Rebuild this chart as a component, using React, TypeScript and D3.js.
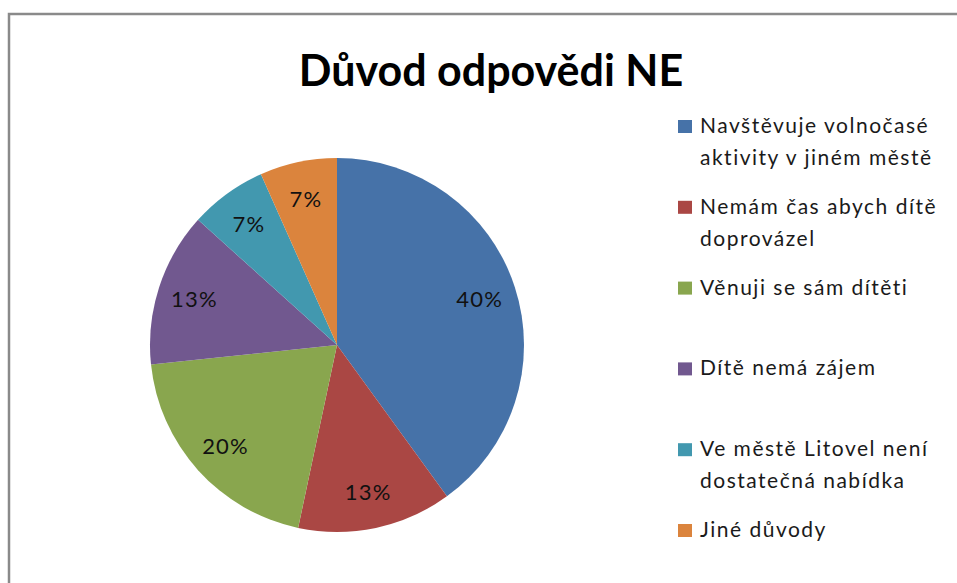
import React from "react";
import * as d3 from "d3";

const categories: string[] = [
  "Navštěvuje volnočasé aktivity v jiném městě",
  "Nemám čas abych dítě doprovázel",
  "Věnuji se sám dítěti",
  "Dítě nemá zájem",
  "Ve městě Litovel není dostatečná nabídka",
  "Jiné důvody",
];
const legendLines: string[][] = [
  ["Navštěvuje volnočasé", "aktivity v jiném městě"],
  ["Nemám čas abych dítě", "doprovázel"],
  ["Věnuji se sám dítěti"],
  ["Dítě nemá zájem"],
  ["Ve městě Litovel není", "dostatečná nabídka"],
  ["Jiné důvody"],
];
const values: number[] = [6, 2, 3, 2, 1, 1];
const colors: string[] = ["#4672A8", "#AA4744", "#89A64E", "#71588F", "#4298AF", "#DB843D"];
const title = "Důvod odpovědi NE";

const W = 957;
const H = 583;
const cx = 337;
const cy = 345;
const R = 187;
const labelR = 150;
const FONT = "Lato, 'Open Sans', sans-serif";

export default function App() {
  const data = categories.map((c, i) => ({ c, v: values[i], i }));
  const pie = d3.pie<any>().value((d) => d.v).sort(null);
  const arcs = pie(data);
  const total = d3.sum(values);
  const arc = d3.arc<any>().innerRadius(0).outerRadius(R);
  const labelArc = d3.arc<any>().innerRadius(labelR).outerRadius(labelR);
  const fmt = (v: number) => `${Math.round((v / total) * 100)}%`;

  const legendY = d3.scalePoint<number>().domain([0, 1, 2, 3, 4, 5]).range([133, 537]);

  return (
    <svg
      width={W}
      height={H}
      style={{ position: "absolute", left: 0, top: 0, background: "#fff" }}
      fontFamily={FONT}
    >
      <rect x={0} y={0} width={W} height={H} fill="#fff" />
      <rect x={9} y={14} width={W + 20} height={H + 20} fill="none" stroke="#8a8a8a" strokeWidth={2.5} />
      <text x={491} y={86} textAnchor="middle" fontWeight="bold" fontSize={43} fill="#000">
        {title}
      </text>
      <g transform={`translate(${cx},${cy})`}>
        {arcs.map((a, i) => (
          <path key={i} d={arc(a) as string} fill={colors[i]} />
        ))}
        {arcs.map((a, i) => {
          const [x, y] = labelArc.centroid(a);
          return (
            <text
              key={"l" + i}
              x={x}
              y={y}
              textAnchor="middle"
              dominantBaseline="central"
              fontSize={22}
              letterSpacing={1.2}
              fill="#111"
            >
              {fmt(a.data.v)}
            </text>
          );
        })}
      </g>
      <g>
        {legendLines.map((lines, i) => {
          const y0 = legendY(i) as number;
          return (
            <g key={"lg" + i}>
              <rect x={678} y={y0 - 13} width={14} height={13} fill={colors[i]} />
              {lines.map((t, j) => (
                <text key={j} x={700} y={y0 + j * 32} fontSize={21} letterSpacing={1.5} fill="#1a1a1a">
                  {t}
                </text>
              ))}
            </g>
          );
        })}
      </g>
    </svg>
  );
}
